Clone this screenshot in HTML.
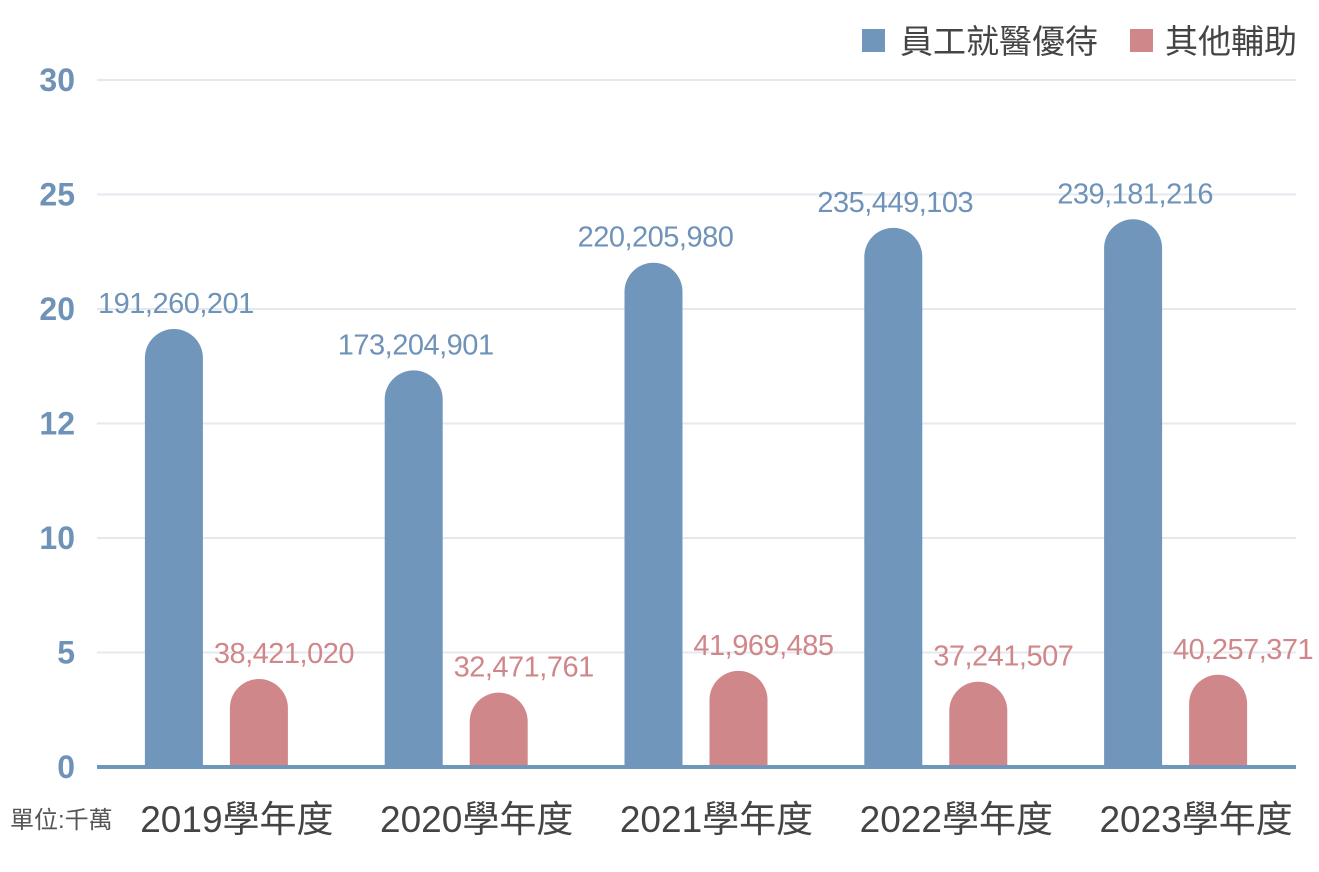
<!DOCTYPE html>
<html><head><meta charset="utf-8"><style>
body{margin:0;background:#fff;width:1319px;height:872px;overflow:hidden}
svg{display:block}
text{font-family:"Liberation Sans","Noto Sans CJK TC",sans-serif}
</style></head><body>
<svg id="chart" width="1319" height="872" viewBox="0 0 1319 872">
<g id="grid"></g>
<g id="bars"></g>
<g id="labels"></g>
<g id="xlabels"></g>
<text x="10" y="828" font-size="24" fill="#555">單位:千萬</text>
<g>
<rect x="862" y="29" width="23" height="23" fill="#7096bc"/>
<text x="900" y="53" font-size="33" fill="#444">員工就醫優待</text>
<rect x="1130" y="29" width="23" height="23" fill="#d0878a"/>
<text x="1165" y="53" font-size="33" fill="#444">其他輔助</text>
</g>
</svg>
<script>
const categories=["2019學年度","2020學年度","2021學年度","2022學年度","2023學年度"];
const medical=[191260201,173204901,220205980,235449103,239181216];
const other=[38421020,32471761,41969485,37241507,40257371];
const tickValues=[0,5,10,15,20,25,30];
const tickLabels=["0","5","10","12","20","25","30"];
const NS="http://www.w3.org/2000/svg";
const x0=97,x1=1296,y0=767,y30=80;
const yScale=v=>y0-(v/1e7)/30*(y0-y30);
const band=(x1-x0)/categories.length;
const xCenter=i=>x0+band*(i+0.5);
const fmt=n=>n.toLocaleString("en-US");
function mk(tag,attrs,parent){const e=document.createElementNS(NS,tag);for(const k in attrs)e.setAttribute(k,attrs[k]);parent.appendChild(e);return e;}
const grid=document.getElementById("grid"),bars=document.getElementById("bars"),labels=document.getElementById("labels"),xl=document.getElementById("xlabels");
tickValues.forEach((t,i)=>{
  const y=y0-t/30*(y0-y30);
  if(t>0){const l=mk("line",{x1:x0,x2:x1,y1:y,y2:y,stroke:"#e4e9ef","stroke-width":2},grid);
  
  }
  const tx=mk("text",{x:75,y:y+11,"font-size":32,"font-weight":"bold",fill:"#6f93b8","text-anchor":"end"},grid);
  tx.textContent=tickLabels[i];
  
  
});
const w=58,r=29;
function bar(cx,v,color,name){
  const top=yScale(v),x=cx-w/2;
  const d=`M${x},${y0} L${x},${top+r} A${r},${r} 0 0 1 ${x+w},${top+r} L${x+w},${y0} Z`;
  const p=mk("path",{d:d,fill:color},bars);
  
  
  return top;
}
categories.forEach((c,i)=>{
  const cb=xCenter(i)-43,cr=xCenter(i)+42;
  const tb=bar(cb,medical[i],"#7096bc","bar-medical-"+i);
  const tr=bar(cr,other[i],"#d0878a","bar-other-"+i);
  const lb=mk("text",{x:cb+2,y:tb-16,"font-size":29,fill:"#6f93b8","text-anchor":"middle","letter-spacing":"-0.5"},labels);
  lb.textContent=fmt(medical[i]);
  
  
  const lr=mk("text",{x:cr+25,y:tr-16,"font-size":29,fill:"#d0878a","text-anchor":"middle","letter-spacing":"-0.5"},labels);
  lr.textContent=fmt(other[i]);
  
  
  const xt=mk("text",{x:xCenter(i)+20,y:832,"font-size":37,fill:"#444","text-anchor":"middle"},xl);
  xt.textContent=c;
  
  
});
const ax=mk("line",{x1:x0,x2:x1,y1:y0,y2:y0,stroke:"#7096bc","stroke-width":4},document.getElementById("chart"));


</script>
</body></html>
